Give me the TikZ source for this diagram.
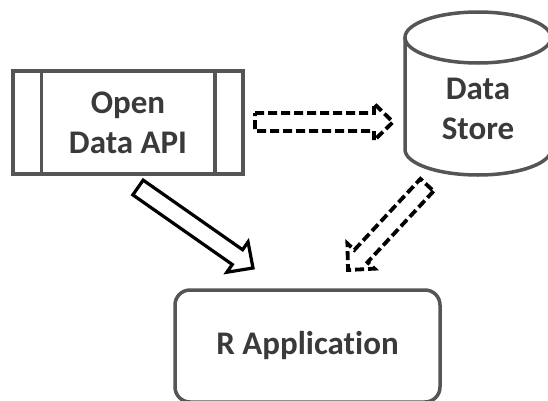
\documentclass[tikz,border=0pt]{standalone}
\usepackage{fontspec}
\setmainfont{Carlito}[Ligatures={NoCommon,NoContextual,NoRare},Contextuals=NoAlternate]
\usetikzlibrary{calc}
\definecolor{boxgray}{HTML}{555555}
\definecolor{textgray}{HTML}{3A3A3A}

\begin{document}
\begin{tikzpicture}[x=1pt,y=1pt,
	box/.style={draw=boxgray,line width=3.5pt,text=textgray,font=\fontsize{33}{40}\selectfont\bfseries,align=center,inner sep=0pt},
	blockarrow/.style={draw=black,line width=3.2pt,line join=miter,
		to path={let \p1=(\tikztostart),\p2=(\tikztotarget),\n1={atan2(\y2-\y1,\x2-\x1)},\n2={veclen(\x2-\x1,\y2-\y1)} in
			($(\p1)+(\n1+90:9)$) -- ++(\n1:{\n2-19}) -- ++(\n1+90:9.5) -- (\p2)
			-- ($(\p2)+(\n1+180:19)+(\n1-90:18.5)$) -- ++(\n1+90:9.5) -- ($(\p1)+(\n1-90:9)$) -- cycle}},
	dashedarrow/.style={blockarrow,line width=3.8pt,dash pattern=on 9pt off 4pt}
]
\useasboundingbox (0,0) rectangle (548,400);

%api
\node[box,minimum width=230pt,minimum height=103pt] (api) at (128,277.5) {Open\\Data API};
\draw[boxgray,line width=3.5pt] ($(api.north west)+(30,0)$)--($(api.south west)+(30,0)$);
\draw[boxgray,line width=3.5pt] ($(api.north east)+(-30,0)$)--($(api.south east)+(-30,0)$);

%store
\node[box,draw=none] (store) at (478,291) {Data\\Store};
\draw[boxgray,line width=3.5pt] (405,362.5)--(405,250.5) arc[start angle=180,end angle=360,x radius=73,y radius=25.5]--(551,362.5);
\draw[boxgray,line width=3.5pt] (478,362.5) ellipse [x radius=73,y radius=25.5];

%app
\node[box,rounded corners=15pt,minimum width=265pt,minimum height=112pt] (app) at (307.5,54) {R Application};

%arrows
\coordinate (a1) at (255,278);
\coordinate (a2) at (393,278);
\coordinate (b1) at (138,212.5);
\coordinate (b2) at (253,132);
\coordinate (c1) at (427,215);
\coordinate (c2) at (348,130);

\draw[dashedarrow] (a1) to (a2);
\draw[blockarrow] (b1) to (b2);
\draw[dashedarrow] (c1) to (c2);

\end{tikzpicture}
\end{document}
